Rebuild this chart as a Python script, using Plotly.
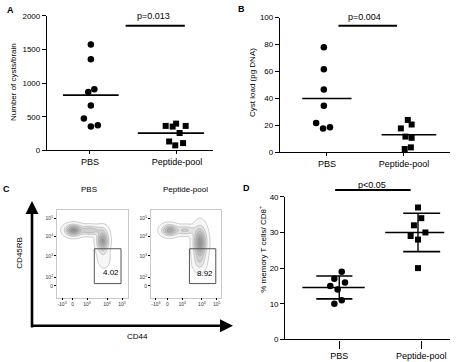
import numpy as np
import plotly.graph_objects as go

W, H = 474, 362
FONT = "Liberation Sans, Arial, sans-serif"

GROUPS = ["PBS", "Peptide-pool"]

# ---------- Panel A: number of cysts / brain ----------
A_PBS = [1574, 1356, 910, 867, 668, 475, 353, 373]
A_PEP = [363, 353, 397, 363, 257, 131, 73, 107]
A_PBS_JIT = [0.01, 0.01, 0.05, -0.02, 0.01, -0.07, 0.01, 0.09]
A_PEP_JIT = [-0.13, -0.05, -0.01, 0.10, 0.03, -0.09, -0.02, 0.07]
A_TICKS = [0, 500, 1000, 1500, 2000]
A_YTITLE = "Number of cysts/brain"
A_P = "p=0.013"

# ---------- Panel B: cyst load ----------
B_PBS = [78, 61.7, 46.7, 34.6, 21.8, 17.7, 18.6]
B_PEP = [24, 20.6, 17.7, 11.6, 10.7, 2.4, 3.6]
B_PBS_JIT = [-0.04, -0.04, -0.04, -0.04, -0.14, -0.05, 0.04]
B_PEP_JIT = [0.05, 0.10, -0.04, 0.02, 0.10, 0.01, 0.09]
B_TICKS = [0, 20, 40, 60, 80, 100]
B_YTITLE = "Cyst load (pg DNA)"
B_P = "p=0.004"

# ---------- Panel D: % memory T cells ----------
D_PBS = [19, 17, 16, 15, 14, 11, 10]
D_PEP = [37, 34, 32, 30, 29, 28, 20]
D_PBS_JIT = [0.03, -0.06, 0.07, -0.11, -0.02, 0.03, -0.06]
D_PEP_JIT = [-0.04, 0.0, -0.09, 0.05, -0.13, -0.04, -0.04]
D_TICKS = [0, 10, 20, 30, 40]
D_YTITLE = "% memory T cells/ CD8<sup>+</sup>"
D_P = "p<0.05"

# ---------- Panel C: flow cytometry ----------
FLOW_TITLES = ["PBS", "Peptide-pool"]
FLOW_GATE_PCT = ["4.02", "8.92"]
FLOW_XTICKTEXT = ["-10<sup>3</sup>", "0", "10<sup>3</sup>", "10<sup>4</sup>", "10<sup>5</sup>"]
FLOW_YTICKTEXT = ["0", "10<sup>2</sup>", "10<sup>3</sup>", "10<sup>4</sup>", "10<sup>5</sup>"]
FLOW_XLABEL = "CD44"
FLOW_YLABEL = "CD45RB"
# cell populations (centre x, centre y, spread x, spread y, weight)
PBS_POP_X = [16.3, 33.0, 45.7, 47.0]
PBS_POP_Y = [69.0, 69.0, 58.0, 39.0]
PBS_POP_SX = [5.0, 7.0, 3.5, 4.0]
PBS_POP_SY = [3.5, 3.0, 7.0, 6.0]
PBS_POP_W = [1.0, 0.5, 0.9, 0.12]
PEP_POP_X = [19.0, 35.0, 49.7, 49.0]
PEP_POP_Y = [69.0, 69.0, 56.0, 36.0]
PEP_POP_SX = [5.0, 6.0, 4.0, 4.0]
PEP_POP_SY = [3.5, 3.0, 10.0, 6.0]
PEP_POP_W = [0.8, 0.4, 1.0, 0.22]


def px(p):
    return p / W


def py(p):
    return 1 - p / H


fig = go.Figure()


def scatter_panel(xa, ya, pbs, pep, pbs_jit, pep_jit, msize, mean_pbs, mean_pep):
    fig.add_trace(go.Scatter(
        x=[0 + j for j in pbs_jit], y=pbs, mode="markers", xaxis=xa, yaxis=ya,
        marker=dict(symbol="circle", size=msize, color="black"),
        cliponaxis=False, showlegend=False, hoverinfo="skip"))
    fig.add_trace(go.Scatter(
        x=[1 + j for j in pep_jit], y=pep, mode="markers", xaxis=xa, yaxis=ya,
        marker=dict(symbol="square", size=msize - 0.5, color="black"),
        cliponaxis=False, showlegend=False, hoverinfo="skip"))
    m1, m2 = float(np.mean(pbs)), float(np.mean(pep))
    fig.add_trace(go.Scatter(x=[mean_pbs[0], mean_pbs[1]], y=[m1, m1], mode="lines",
                             xaxis=xa, yaxis=ya, line=dict(color="black", width=1.6),
                             showlegend=False, hoverinfo="skip"))
    fig.add_trace(go.Scatter(x=[1 + mean_pep[0], 1 + mean_pep[1]], y=[m2, m2], mode="lines",
                             xaxis=xa, yaxis=ya, line=dict(color="black", width=1.6),
                             showlegend=False, hoverinfo="skip"))


# Panel A
scatter_panel("x", "y", A_PBS, A_PEP, A_PBS_JIT, A_PEP_JIT, 6.5, (-0.31, 0.33), (-0.45, 0.31))
fig.add_trace(go.Scatter(x=[0.41, 1.09], y=[1855, 1855], mode="lines", xaxis="x", yaxis="y",
                         line=dict(color="black", width=2), showlegend=False, hoverinfo="skip"))
# Panel B
scatter_panel("x2", "y2", B_PBS, B_PEP, B_PBS_JIT, B_PEP_JIT, 6.5, (-0.32, 0.32), (-0.29, 0.42))
fig.add_trace(go.Scatter(x=[0.15, 0.91], y=[94, 94], mode="lines", xaxis="x2", yaxis="y2",
                         line=dict(color="black", width=2), showlegend=False, hoverinfo="skip"))

# Panel D with mean +/- SD
fig.add_trace(go.Scatter(x=[0 + j for j in D_PBS_JIT], y=D_PBS, mode="markers", xaxis="x5", yaxis="y5",
                         marker=dict(symbol="circle", size=6.5, color="black"),
                         cliponaxis=False, showlegend=False, hoverinfo="skip"))
fig.add_trace(go.Scatter(x=[1 + j for j in D_PEP_JIT], y=D_PEP, mode="markers", xaxis="x5", yaxis="y5",
                         marker=dict(symbol="square", size=6, color="black"),
                         cliponaxis=False, showlegend=False, hoverinfo="skip"))
for gi, vals, mean_span, cap_span, vx in [
        (0, D_PBS, (-0.45, 0.31), (-0.28, 0.16), 0.0),
        (1, D_PEP, (-0.44, 0.28), (-0.22, 0.23), -0.04)]:
    m = float(np.mean(vals))
    s = float(np.std(vals, ddof=1))
    fig.add_trace(go.Scatter(x=[gi + mean_span[0], gi + mean_span[1]], y=[m, m], mode="lines",
                             xaxis="x5", yaxis="y5", line=dict(color="black", width=1.6),
                             showlegend=False, hoverinfo="skip"))
    for yy in (m - s, m + s):
        fig.add_trace(go.Scatter(x=[gi + cap_span[0], gi + cap_span[1]], y=[yy, yy], mode="lines",
                                 xaxis="x5", yaxis="y5", line=dict(color="black", width=1.6),
                                 showlegend=False, hoverinfo="skip"))
    fig.add_trace(go.Scatter(x=[gi + vx, gi + vx], y=[m - s, m + s], mode="lines",
                             xaxis="x5", yaxis="y5", line=dict(color="black", width=1.4),
                             showlegend=False, hoverinfo="skip"))

# Panel C flow density contours
gx = np.linspace(0, 71, 143)
gy = np.linspace(0, 90, 181)
GX, GY = np.meshgrid(gx, gy)
for xa, ya, PX, PY, SX, SY, PW in [
        ("x3", "y3", PBS_POP_X, PBS_POP_Y, PBS_POP_SX, PBS_POP_SY, PBS_POP_W),
        ("x4", "y4", PEP_POP_X, PEP_POP_Y, PEP_POP_SX, PEP_POP_SY, PEP_POP_W)]:
    Z = np.zeros_like(GX)
    for cx, cy, sx, sy, w in zip(PX, PY, SX, SY, PW):
        Z += w * np.exp(-0.5 * (((GX - cx) / sx) ** 2 + ((GY - cy) / sy) ** 2))
    fig.add_trace(go.Contour(x=gx, y=gy, z=Z, xaxis=xa, yaxis=ya, showscale=False,
                             zmin=0, zmax=1.3,
                             colorscale=[[0, "white"], [1, "#7a7a7a"]],
                             contours=dict(start=0.04, end=1.3, size=0.16, coloring="fill"),
                             line=dict(color="#9a9a9a", width=0.5),
                             hoverinfo="skip"))

axis_common = dict(showline=True, linecolor="black", linewidth=1.3, ticks="outside",
                   ticklen=4, tickwidth=1.2, tickcolor="black", showgrid=False,
                   zeroline=False, tickfont=dict(family=FONT, size=8, color="black"))
xtick_font = dict(family=FONT, size=9, color="black")

flow_axis = dict(showline=True, linecolor="#c8c8c8", linewidth=0.8, mirror=True,
                 ticks="outside", ticklen=2, tickwidth=0.6, tickcolor="black",
                 showgrid=False, zeroline=False,
                 tickfont=dict(family=FONT, size=5, color="#333"))

fig.update_layout(
    width=W, height=H, autosize=False,
    margin=dict(l=0, r=0, t=0, b=0),
    paper_bgcolor="white", plot_bgcolor="rgba(0,0,0,0)",
    font=dict(family=FONT, color="black"),
    xaxis=dict(axis_common, domain=[px(47), px(213)], range=[-0.494, 1.414], ticklen=3,
               tickvals=[0, 1], ticktext=GROUPS, anchor="y", tickfont=xtick_font),
    yaxis=dict(axis_common, domain=[py(150), py(12.3)], range=[0, 2000],
               tickvals=A_TICKS, anchor="x"),
    xaxis2=dict(axis_common, domain=[px(280), px(450)], range=[-0.609, 1.598], ticklen=3,
                tickvals=[0, 1], ticktext=GROUPS, anchor="y2", tickfont=xtick_font),
    yaxis2=dict(axis_common, domain=[py(152), py(14)], range=[0, 100],
                tickvals=B_TICKS, anchor="x2"),
    xaxis5=dict(axis_common, domain=[px(285.3), px(450)], range=[-0.658, 1.35],
                tickvals=[0, 1], ticktext=GROUPS, anchor="y5", ticklen=8, tickfont=xtick_font),
    yaxis5=dict(axis_common, domain=[py(344), py(197.7)], range=[0, 40],
                tickvals=D_TICKS, anchor="x5"),
    xaxis3=dict(flow_axis, domain=[px(57), px(128)], range=[0, 71],
                tickvals=[5, 15.6, 30, 50, 65], ticktext=FLOW_XTICKTEXT, anchor="y3"),
    yaxis3=dict(flow_axis, domain=[py(301), py(211)], range=[0, 90],
                tickvals=[12, 21, 42.7, 62.7, 81], ticktext=FLOW_YTICKTEXT, anchor="x3"),
    xaxis4=dict(flow_axis, domain=[px(151), px(221)], range=[0, 71],
                tickvals=[5, 16.6, 31.6, 51.6, 66.6], ticktext=FLOW_XTICKTEXT, anchor="y4"),
    yaxis4=dict(flow_axis, domain=[py(301), py(211)], range=[0, 90],
                tickvals=[12, 21, 42.7, 62.7, 81], ticktext=FLOW_YTICKTEXT, anchor="x4"),
)

shapes = []
# gates
for xa, ya, x0, x1, in [("x3", "y3", 37.3, 64.0), ("x4", "y4", 39.0, 65.7)]:
    shapes.append(dict(type="rect", xref=xa, yref=ya, x0=x0, x1=x1, y0=14.3, y1=50,
                       line=dict(color="#555", width=1)))
# p-bar D
shapes.append(dict(type="line", xref="x5", yref="paper", x0=-0.05, x1=0.87,
                   y0=py(190.7), y1=py(190.7), line=dict(color="black", width=2)))
fig.update_layout(shapes=shapes)

ann = []


def text(x, y, t, size=8, bold=False, angle=0, xanchor="center", color="black"):
    ann.append(dict(x=x, y=y, xref="paper", yref="paper", text=("<b>%s</b>" % t) if bold else t,
                    showarrow=False, textangle=angle, xanchor=xanchor, yanchor="middle",
                    font=dict(family=FONT, size=size, color=color)))


# panel letters
text(px(10), py(6), "A", 9, True)
text(px(241), py(5), "B", 9, True)
text(px(6), py(190), "C", 9, True)
text(px(246), py(189), "D", 9, True)
# y titles
text(px(13), py(80), A_YTITLE, 8, angle=-90)
text(px(252), py(80), B_YTITLE, 8, angle=-90)
text(px(262), py(252), D_YTITLE, 8, angle=-90)
# p values
text(px(153), py(12.3), A_P, 9)
text(px(364.7), py(13.3), B_P, 9)
text(px(372), py(186), D_P, 9)
# flow titles and labels
text(px(89), py(190), FLOW_TITLES[0], 8)
text(px(185), py(190), FLOW_TITLES[1], 8)
text(px(20), py(255), FLOW_YLABEL, 8, angle=-90)
text(px(137), py(341), FLOW_XLABEL, 8)
# gate percentages
ann.append(dict(x=53.7, y=25.3, xref="x3", yref="y3", text=FLOW_GATE_PCT[0], showarrow=False,
                font=dict(family=FONT, size=8, color="black")))
ann.append(dict(x=55, y=25, xref="x4", yref="y4", text=FLOW_GATE_PCT[1], showarrow=False,
                font=dict(family=FONT, size=8, color="black")))
# big axis arrows
ann.append(dict(x=px(32), y=py(202), xref="paper", yref="paper", ax=0, ay=128, axref="pixel",
                ayref="pixel", text="", showarrow=True, arrowhead=2, arrowsize=1, arrowwidth=2.6,
                arrowcolor="black", standoff=0, startstandoff=0))
ann.append(dict(x=px(233), y=py(330), xref="paper", yref="paper", ax=-202, ay=0, axref="pixel",
                ayref="pixel", text="", showarrow=True, arrowhead=2, arrowsize=1, arrowwidth=2.6,
                arrowcolor="black", standoff=0, startstandoff=0))
fig.update_layout(annotations=ann)

fig.write_html("out.html", config={"displayModeBar": False},
               post_script="document.body.style.margin='0';document.documentElement.style.overflow='hidden';")
